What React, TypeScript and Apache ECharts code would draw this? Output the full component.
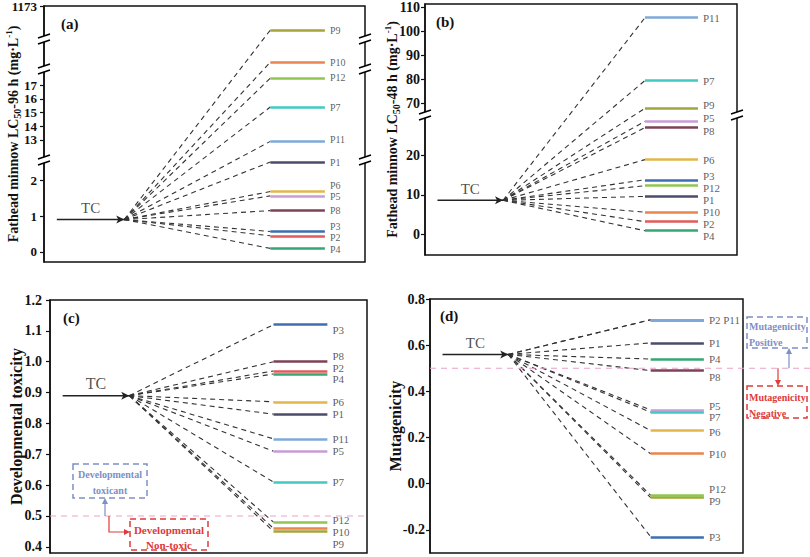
import React, { useEffect, useRef } from "react";
import * as echarts from "echarts";

const FONT = "'Liberation Serif', 'Times New Roman', serif";

const PRODUCTS = ["P1", "P2", "P3", "P4", "P5", "P6", "P7", "P8", "P9", "P10", "P11", "P12"];
const COLORS = ["#4b4b6b", "#e25b5b", "#3c6fb1", "#33a873", "#c79dd6", "#e2b64a", "#41c9c2", "#7d4256", "#a4a43a", "#e9854d", "#7ea9d8", "#8fc64f"];

// (a) Fathead minnow LC50-96 h
const TC_A = 0.9;
const VALUES_A = [2.5, 0.45, 0.57, 0.1, 1.56, 1.68, 15.4, 1.15, 390, 29, 12.9, 17.5];
const TICKS_A = [0, 1, 2, 13, 14, 15, 16, 17, 1173];
// (b) Fathead minnow LC50-48 h
const TC_B = 8.6;
const VALUES_B = [9.6, 3.2, 13.8, 0.9, 28.6, 18.9, 79.6, 27.0, 68.1, 5.6, 105.7, 12.3];
const TICKS_B = [0, 10, 20, 70, 80, 90, 100, 110];
// (c) Developmental toxicity
const TC_C = 0.89;
const VALUES_C = [0.83, 0.97, 1.12, 0.96, 0.71, 0.87, 0.61, 1.0, 0.45, 0.46, 0.75, 0.48];
const TICKS_C = [0.4, 0.5, 0.6, 0.7, 0.8, 0.9, 1.0, 1.1, 1.2];
// (d) Mutagenicity
const TC_D = 0.56;
const VALUES_D = [0.61, 0.71, -0.23, 0.54, 0.32, 0.23, 0.31, 0.49, -0.06, 0.13, 0.71, -0.05];
const TICKS_D = [-0.2, 0, 0.2, 0.4, 0.6, 0.8];
const THRESHOLD = 0.5;

// broken-axis segments: [valueStart, valueEnd, displayStart, displayEnd]
type Seg = [number, number, number, number];
const SEG_A: Seg[] = [[-0.278, 2.556, 0, 102], [11.545, 18.164, 102, 193], [20, 60, 193, 223], [100, 1173, 223, 256]];
const SEG_B: Seg[] = [[-5.24, 30.2, 0, 140], [65.3, 111.4, 140, 251]];

// label vertical nudges (px) to avoid overlap
const DY_A = [0, 2, -5, 1, 1, -6, 0, 0, 0, 0, -2, -1];
const DY_B = [4, 2, -4, 5, -3, 0, 0, 3, -3, 0, 0, 2];
const DY_C = [0, -3, 5, 5, 0, 0, 0, -6, 13, 4, 0, -2];
const DY_D = [0, 0, 0, 0, -4, 1, 5, 6, 3, 0, 0, -6];

const X_TC = [4, 25];
const X_P = [70.5, 87.5];

function makeMap(segs?: Seg[]) {
  if (!segs) return (v: number) => v;
  return (v: number) => {
    let s = segs[0];
    for (const g of segs) if (v >= g[0]) s = g;
    return s[2] + ((v - s[0]) / (s[1] - s[0])) * (s[3] - s[2]);
  };
}

const lcName = (h: string) => `{t|Fathead minnow LC}{s|50}{t|${h} h (mg·L}{p|-1}{t|)}`;
const lcRich = {
  t: { fontFamily: FONT, fontWeight: "bold", fontSize: 14, color: "#111", lineHeight: 18, verticalAlign: "middle" },
  s: { fontFamily: FONT, fontWeight: "bold", fontSize: 10, color: "#111", lineHeight: 9, verticalAlign: "bottom" },
  p: { fontFamily: FONT, fontWeight: "bold", fontSize: 9, color: "#111", lineHeight: 9, verticalAlign: "top" },
};

const PANELS = [
  { grid: { left: 44, top: 6, width: 321, height: 256 }, tc: TC_A, values: VALUES_A, ticks: TICKS_A, segs: SEG_A, yMin: 0, yMax: 256,
    dy: DY_A, name: lcName("-96"), rich: true, nameGap: 22, tickFont: 13, labelFont: 10, tcFont: 15, margin: 7, fmt: (t: number) => String(t) },
  { grid: { left: 425, top: 4, width: 312, height: 251 }, tc: TC_B, values: VALUES_B, ticks: TICKS_B, segs: SEG_B, yMin: 0, yMax: 251,
    dy: DY_B, name: lcName("-48"), rich: true, nameGap: 24, tickFont: 14, labelFont: 11, tcFont: 15, margin: 5, fmt: (t: number) => String(t) },
  { grid: { left: 50, top: 300, width: 317, height: 253 }, tc: TC_C, values: VALUES_C, ticks: TICKS_C, segs: undefined, yMin: 0.38, yMax: 1.2,
    dy: DY_C, name: "Developmental toxicity", rich: false, nameGap: 26, tickFont: 14, labelFont: 11, tcFont: 16, margin: 8, fmt: (t: number) => t.toFixed(1) },
  { grid: { left: 430, top: 299, width: 313, height: 254 }, tc: TC_D, values: VALUES_D, ticks: TICKS_D, segs: undefined, yMin: -0.3, yMax: 0.8,
    dy: DY_D, name: "Mutagenicity", rich: false, nameGap: 27, tickFont: 14, labelFont: 11, tcFont: 15, margin: 5, fmt: (t: number) => t.toFixed(1) },
];

function breakItem(params: any, api: any) {
  const p = api.coord([api.value(0), api.value(1)]);
  const x = p[0], y = p[1];
  return {
    type: "group",
    children: [
      { type: "polygon", shape: { points: [[x - 6, y - 1], [x + 6, y - 5], [x + 6, y + 1], [x - 6, y + 5]] }, style: { fill: "#fff" } },
      { type: "line", shape: { x1: x - 6, y1: y - 1, x2: x + 6, y2: y - 5 }, style: { stroke: "#000", lineWidth: 1.4 } },
      { type: "line", shape: { x1: x - 6, y1: y + 5, x2: x + 6, y2: y + 1 }, style: { stroke: "#000", lineWidth: 1.4 } },
    ],
  };
}

function buildOption() {
  const grid: any[] = [], xAxis: any[] = [], yAxis: any[] = [], series: any[] = [];
  PANELS.forEach((P, i) => {
    const map = makeMap(P.segs);
    const tickD = P.ticks.map(map);
    grid.push({ ...P.grid, show: true, borderColor: "#111", borderWidth: 1.5, backgroundColor: "transparent", containLabel: false, outerBoundsMode: "none" });
    xAxis.push({ gridIndex: i, type: "value", min: 0, max: 100, show: false });
    yAxis.push({
      gridIndex: i, type: "value", min: P.yMin, max: P.yMax,
      axisLine: { show: true, lineStyle: { color: "#111", width: 1.5 } },
      axisTick: { show: true, length: 4, customValues: tickD, lineStyle: { color: "#111", width: 1.2 } },
      axisLabel: {
        customValues: tickD, margin: P.margin, fontFamily: FONT, fontWeight: "bold", fontSize: P.tickFont, color: "#111",
        formatter: (val: number) => {
          let best = 0;
          tickD.forEach((d, k) => { if (Math.abs(d - val) < Math.abs(tickD[best] - val)) best = k; });
          return P.fmt(P.ticks[best]);
        },
      },
      splitLine: { show: false },
      name: P.name, nameLocation: "middle", nameRotate: 90, nameGap: P.nameGap, nameMoveOverlap: false,
      nameTextStyle: P.rich ? { rich: lcRich } : { fontFamily: FONT, fontWeight: "bold", fontSize: 16, color: "#111" },
    });
    const tcD = map(P.tc);
    series.push({
      type: "line", xAxisIndex: i, yAxisIndex: i, silent: true, z: 4,
      data: [{ value: [X_TC[0], tcD], symbol: "none" }, { value: [X_TC[1], tcD], symbol: "arrow", symbolSize: [6, 8], symbolRotate: -90 }],
      lineStyle: { color: "#222", width: 1.5 }, itemStyle: { color: "#222" },
    });
    series.push({
      type: "scatter", xAxisIndex: i, yAxisIndex: i, silent: true, symbolSize: 0,
      data: [[(X_TC[0] + X_TC[1]) / 2, tcD]],
      label: { show: true, position: "top", distance: 4, formatter: "TC", fontFamily: FONT, fontSize: P.tcFont, color: "#222" },
    });
    series.push({
      type: "lines", coordinateSystem: "cartesian2d", xAxisIndex: i, yAxisIndex: i, silent: true, z: 2,
      lineStyle: { color: "#333", width: 1.1, type: [5, 4], opacity: 1 },
      data: P.values.map((v) => ({ coords: [[X_TC[1], tcD], [X_P[0], map(v)]] })),
    });
    series.push({
      type: "lines", coordinateSystem: "cartesian2d", xAxisIndex: i, yAxisIndex: i, silent: true, z: 3,
      lineStyle: { width: 2.5, opacity: 1 },
      data: P.values.map((v, k) => ({ coords: [[X_P[0], map(v)], [X_P[1], map(v)]], lineStyle: { color: COLORS[k], width: 2.5 } })),
    });
    const labelData: any[] = [];
    P.values.forEach((v, k) => {
      const first = P.values.findIndex((w) => w === v);
      if (first !== k) return;
      const name = PRODUCTS.filter((_, j) => P.values[j] === v).join(" ");
      labelData.push({ name, value: [X_P[1], map(v)], label: { offset: [0, P.dy[k]] } });
    });
    series.push({
      type: "scatter", xAxisIndex: i, yAxisIndex: i, silent: true, symbolSize: 0, z: 5,
      data: labelData,
      label: { show: true, position: "right", distance: 5, formatter: (p: any) => p.name, fontFamily: FONT, fontSize: P.labelFont, lineHeight: P.labelFont, color: "#333" },
    });
    if (P.segs) {
      const br = P.segs.slice(1).map((s) => s[2]);
      series.push({
        type: "custom", xAxisIndex: i, yAxisIndex: i, silent: true, z: 10, clip: false,
        renderItem: breakItem,
        data: [...br.map((d) => [0, d]), ...br.map((d) => [100, d])],
      });
    }
  });
  return { animation: false, backgroundColor: "#fff", grid, xAxis, yAxis, series };
}

const BLUE = "#7d90c6";
const RED = "#e03a3a";
const PINK = "#eaa3c8";

function buildGraphics(chart: any) {
  const yc = chart.convertToPixel({ xAxisIndex: 2, yAxisIndex: 2 }, [0, THRESHOLD])[1];
  const yd = chart.convertToPixel({ xAxisIndex: 3, yAxisIndex: 3 }, [0, THRESHOLD])[1];
  const gc = PANELS[2].grid, gd = PANELS[3].grid;
  const tag = (x: number, y: number, t: string) => ({ type: "text", x, y, style: { text: t, font: `bold 15px ${FONT}`, fill: "#111", verticalAlign: "middle" } });
  const txt = (x: number, y: number, t: string, color: string, align = "center", size = 10) => ({
    type: "text", x, y, z: 20, style: { text: t, font: `bold ${size}px ${FONT}`, fill: color, align, verticalAlign: "middle" },
  });
  const dashRect = (x: number, y: number, w: number, h: number, color: string) => ({
    type: "rect", z: 20, shape: { x, y, width: w, height: h }, style: { fill: "none", stroke: color, lineWidth: 1.5, lineDash: [6, 4] },
  });
  const seg = (x1: number, y1: number, x2: number, y2: number, color: string, w = 1.2, dash?: number[]) => ({
    type: "line", z: 20, shape: { x1, y1, x2, y2 }, style: { stroke: color, lineWidth: w, lineDash: dash },
  });
  const tri = (pts: number[][], color: string) => ({ type: "polygon", z: 20, shape: { points: pts }, style: { fill: color } });
  return [
    tag(61, 24, "(a)"), tag(436, 22, "(b)"), tag(63, 318, "(c)"), tag(440, 316, "(d)"),
    seg(gc.left, yc, gc.left + gc.width, yc, PINK, 1.2, [6, 5]),
    seg(gd.left, yd, 810, yd, PINK, 1.2, [6, 5]),
    dashRect(73, 464, 74, 34, BLUE),
    txt(110, 474, "Developmental", BLUE),
    txt(110, 490, "toxicant", BLUE),
    seg(105, yc, 105, 502, BLUE, 1.2),
    tri([[105, 498], [102, 504], [108, 504]], BLUE),
    { type: "polyline", z: 20, shape: { points: [[109, yc], [109, 532], [125, 532]] }, style: { stroke: RED, lineWidth: 1.2, fill: "none" } },
    tri([[130, 532], [124, 529], [124, 535]], RED),
    dashRect(130, 519, 78, 31, RED),
    txt(169, 530, "Developmental", RED, "center", 11),
    txt(169, 545, "Non-toxic", RED, "center", 11),
    dashRect(747, 317, 60, 31, BLUE),
    txt(749, 326, "Mutagenicity", BLUE, "left"),
    txt(749, 342, "Positive", BLUE, "left"),
    seg(789, yd, 789, 352, BLUE, 1.2),
    tri([[789, 348], [786, 354], [792, 354]], BLUE),
    seg(778, yd, 778, 381, RED, 1.2),
    tri([[778, 386], [775, 380], [781, 380]], RED),
    dashRect(747, 386, 60, 32, RED),
    txt(749, 397, "Mutagenicity", RED, "left"),
    txt(749, 413, "Negative", RED, "left"),
  ];
}

export default function App() {
  const ref = useRef<HTMLDivElement>(null);
  useEffect(() => {
    if (!ref.current) return;
    const chart = echarts.init(ref.current, undefined, { renderer: "svg" });
    chart.setOption(buildOption() as any);
    chart.setOption({ graphic: buildGraphics(chart) } as any);
    return () => chart.dispose();
  }, []);
  return <div ref={ref} style={{ position: "fixed", left: 0, top: 0, width: 810, height: 557, background: "#fff" }} />;
}
